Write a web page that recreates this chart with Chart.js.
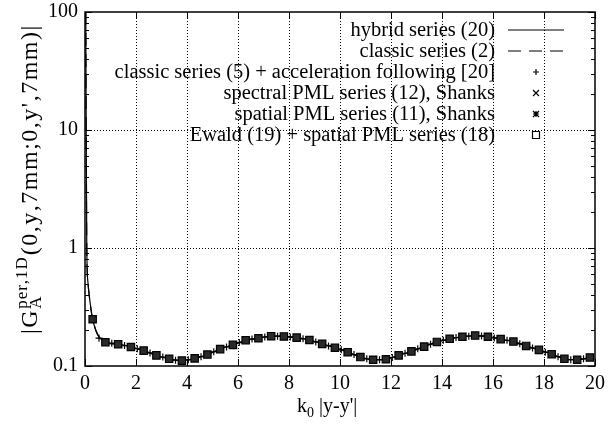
<!DOCTYPE html>
<html lang="en">
  <head>
    <meta charset="UTF-8" />
    <title>Periodic 1D Green's function</title>
    <script src="https://cdn.jsdelivr.net/npm/chart.js@4.4.1/dist/chart.umd.min.js"></script>
    <style>
      body { margin: 0; background: #fff; }
    </style>
  </head>
  <body>
    <div style="width: 609px; height: 427px">
      <canvas id="chart"></canvas>
    </div>

    <script>
      // sample points k0|y-y'| of the series (squares, x and *)
      const sampleX = [0.3, 0.8, 1.3, 1.8, 2.3, 2.8, 3.3, 3.8, 4.3, 4.8,
        5.3, 5.8, 6.3, 6.8, 7.3, 7.8, 8.3, 8.8, 9.3, 9.8,
        10.3, 10.8, 11.3, 11.8, 12.3, 12.8, 13.3, 13.8, 14.3, 14.8,
        15.3, 15.8, 16.3, 16.8, 17.3, 17.8, 18.3, 18.8, 19.3, 19.8]
      const sampleY = [0.249, 0.159, 0.153, 0.145, 0.135, 0.123, 0.115, 0.111, 0.116, 0.125,
        0.139, 0.151, 0.165, 0.172, 0.179, 0.178, 0.174, 0.166, 0.154, 0.143,
        0.131, 0.119, 0.113, 0.114, 0.123, 0.133, 0.146, 0.160, 0.170, 0.177,
        0.181, 0.177, 0.169, 0.161, 0.148, 0.137, 0.126, 0.115, 0.113, 0.118]

      // steep part of the curve next to the singularity
      const nearX = [0.03, 0.047, 0.07, 0.12, 0.17]
      const nearY = [100, 10, 1, 0.5, 0.39]

      // classic series + acceleration (the "+" marks)
      const plusX = [0.55, 1.05, 1.55, 2.05, 2.55, 3.05, 3.55, 4.05, 4.55, 5.05,
        5.55, 6.05, 6.55, 7.05, 7.55, 8.05, 8.55, 9.05, 9.55, 10.05,
        10.55, 11.05, 11.55, 12.05, 12.55, 13.05, 13.55, 14.05, 14.55, 15.05,
        15.55, 16.05, 16.55, 17.05, 17.55, 18.05, 18.55, 19.05, 19.55]
      const plusY = [0.172, 0.156, 0.149, 0.140, 0.129, 0.119, 0.112, 0.113, 0.120, 0.132,
        0.145, 0.158, 0.169, 0.176, 0.179, 0.176, 0.170, 0.160, 0.148, 0.137,
        0.125, 0.115, 0.113, 0.118, 0.128, 0.140, 0.153, 0.165, 0.174, 0.179,
        0.180, 0.173, 0.165, 0.154, 0.142, 0.131, 0.120, 0.113, 0.115]

      const labels = [
        'hybrid series (20)',
        'classic series (2)',
        'classic series (5) + acceleration following [20]',
        'spectral PML series (12), Shanks',
        'spatial PML series (11), Shanks',
        'Ewald (19) + spatial PML series (18)',
      ]

      const xTicks = [0, 2, 4, 6, 8, 10, 12, 14, 16, 18, 20]
      const yTicks = [0.1, 1, 10, 100]
      const yMinor = [0.2, 0.3, 0.4, 0.5, 0.6, 0.7, 0.8, 0.9,
        2, 3, 4, 5, 6, 7, 8, 9, 20, 30, 40, 50, 60, 70, 80, 90]

      const FONT = '"Liberation Serif", "DejaVu Serif", serif'

      const pts = (xs, ys) => xs.map((x, i) => ({ x: x, y: ys[i] }))
      const lineX = nearX.concat(sampleX)
      const lineY = nearY.concat(sampleY)

      // draw a string one glyph at a time with a little extra spacing
      const spaced = (ctx, text, x, y, sp) => {
        for (const ch of text) {
          ctx.fillText(ch, x, y)
          x += ctx.measureText(ch).width + sp
        }
        return x
      }

      // frame, dotted grid and inward ticks like gnuplot
      const framePlugin = {
        id: 'frame',
        beforeDatasetsDraw(chart) {
          const { ctx, chartArea: a, scales } = chart
          ctx.save()
          ctx.strokeStyle = '#000'
          ctx.lineWidth = 1
          ctx.setLineDash([1, 2])
          ctx.beginPath()
          xTicks.slice(1, -1).forEach((v) => {
            const px = Math.round(scales.x.getPixelForValue(v)) + 0.5
            ctx.moveTo(px, a.top)
            ctx.lineTo(px, a.bottom)
          })
          yTicks.slice(1, -1).forEach((v) => {
            const py = Math.round(scales.y.getPixelForValue(v)) + 0.5
            ctx.moveTo(a.left, py)
            ctx.lineTo(a.right, py)
          })
          ctx.stroke()
          ctx.restore()
        },
        afterDraw(chart) {
          const { ctx, chartArea: a, scales } = chart
          ctx.save()
          ctx.strokeStyle = '#000'
          ctx.lineWidth = 1
          ctx.beginPath()
          xTicks.forEach((v) => {
            const px = Math.round(scales.x.getPixelForValue(v)) + 0.5
            ctx.moveTo(px, a.bottom)
            ctx.lineTo(px, a.bottom - 7)
            ctx.moveTo(px, a.top)
            ctx.lineTo(px, a.top + 7)
          })
          yTicks.forEach((v) => {
            const py = Math.round(scales.y.getPixelForValue(v)) + 0.5
            ctx.moveTo(a.left, py)
            ctx.lineTo(a.left + 7, py)
            ctx.moveTo(a.right, py)
            ctx.lineTo(a.right - 7, py)
          })
          yMinor.forEach((v) => {
            const py = Math.round(scales.y.getPixelForValue(v)) + 0.5
            ctx.moveTo(a.left, py)
            ctx.lineTo(a.left + 4, py)
            ctx.moveTo(a.right, py)
            ctx.lineTo(a.right - 4, py)
          })
          ctx.stroke()
          ctx.lineWidth = 1.5
          ctx.strokeRect(a.left, a.top, a.right - a.left, a.bottom - a.top)

          // axis titles with sub/superscripts
          ctx.fillStyle = '#000'
          ctx.textBaseline = 'alphabetic'
          ctx.textAlign = 'left'
          ctx.font = '20px ' + FONT
          let x = 297
          ctx.fillText('k', x, 412)
          x += ctx.measureText('k').width
          ctx.font = '14px ' + FONT
          ctx.fillText('0', x, 417)
          x += ctx.measureText('0').width
          ctx.font = '20px ' + FONT
          ctx.fillText(' |y-y\'|', x, 412)

          ctx.translate(37, 334)
          ctx.rotate(-Math.PI / 2)
          ctx.font = '24px ' + FONT
          x = spaced(ctx, '|G', 0, 0, 1.5)
          ctx.font = '17px ' + FONT
          ctx.fillText('A', x, 4)
          x = spaced(ctx, 'per,1D', x, -10, 1)
          ctx.font = '24px ' + FONT
          spaced(ctx, '(0,y,7mm;0,y\',7mm)|', x + 1, 0, 1.5)
          ctx.restore()

          // legend: right aligned text, sample on the right
          ctx.save()
          ctx.font = '20.5px ' + FONT
          ctx.textAlign = 'right'
          ctx.textBaseline = 'middle'
          ctx.fillStyle = '#000'
          ctx.strokeStyle = '#000'
          chart.data.datasets.forEach((ds, i) => {
            const y = 30 + 21 * i
            ctx.fillText(ds.label, 495, y + 1)
            const cx = 536
            ctx.lineWidth = 1.2
            ctx.setLineDash([])
            ctx.beginPath()
            if (i === 0) {
              ctx.moveTo(508, y)
              ctx.lineTo(564, y)
            } else if (i === 1) {
              ctx.setLineDash([13, 8])
              ctx.moveTo(508, y)
              ctx.lineTo(564, y)
            } else if (i === 2) {
              ctx.moveTo(cx - 3, y)
              ctx.lineTo(cx + 3, y)
              ctx.moveTo(cx, y - 3)
              ctx.lineTo(cx, y + 3)
            } else if (i === 3) {
              ctx.moveTo(cx - 3, y - 3)
              ctx.lineTo(cx + 3, y + 3)
              ctx.moveTo(cx - 3, y + 3)
              ctx.lineTo(cx + 3, y - 3)
            } else if (i === 4) {
              ctx.moveTo(cx - 3, y - 3)
              ctx.lineTo(cx + 3, y + 3)
              ctx.moveTo(cx - 3, y + 3)
              ctx.lineTo(cx + 3, y - 3)
              ctx.moveTo(cx - 3, y)
              ctx.lineTo(cx + 3, y)
              ctx.moveTo(cx, y - 3)
              ctx.lineTo(cx, y + 3)
            } else {
              ctx.rect(cx - 3.5, y - 3.5, 7, 7)
            }
            ctx.stroke()
          })
          ctx.restore()
        },
      }

      new Chart(document.getElementById('chart'), {
        type: 'scatter',
        data: {
          datasets: [
            {
              label: labels[0],
              data: pts(lineX, lineY),
              showLine: true,
              borderColor: '#000',
              borderWidth: 1.2,
              pointRadius: 0,
              cubicInterpolationMode: 'monotone',
              order: 5,
            },
            {
              label: labels[1],
              data: pts(lineX, lineY),
              showLine: true,
              borderColor: '#000',
              borderWidth: 1.2,
              borderDash: [13, 8],
              pointRadius: 0,
              cubicInterpolationMode: 'monotone',
              order: 4,
            },
            {
              label: labels[2],
              data: pts(plusX, plusY),
              pointStyle: 'cross',
              pointRadius: 3.5,
              borderColor: '#000',
              borderWidth: 1.2,
              order: 3,
            },
            {
              label: labels[3],
              data: pts(sampleX, sampleY),
              pointStyle: 'crossRot',
              pointRadius: 3.5,
              borderColor: '#000',
              borderWidth: 1.2,
              order: 2,
            },
            {
              label: labels[4],
              data: pts(sampleX, sampleY),
              pointStyle: 'star',
              pointRadius: 3.5,
              borderColor: '#000',
              borderWidth: 1.2,
              order: 1,
            },
            {
              label: labels[5],
              data: pts(sampleX, sampleY),
              pointStyle: 'rect',
              pointRadius: 5.2,
              backgroundColor: '#2a2a2a',
              borderColor: '#000',
              borderWidth: 1.2,
              order: 0,
            },
          ],
        },
        options: {
          responsive: true,
          maintainAspectRatio: false,
          animation: false,
          events: [],
          layout: {
            padding: { left: 0, right: 14, top: 12, bottom: 0 },
          },
          scales: {
            x: {
              type: 'linear',
              min: 0,
              max: 20,
              afterBuildTicks: (scale) => {
                scale.ticks = xTicks.map((v) => ({ value: v }))
              },
              afterFit: (scale) => {
                scale.height = 61
                scale.paddingLeft = 0
                scale.paddingRight = 0
              },
              grid: { display: false, drawTicks: false },
              border: { display: false },
              ticks: {
                color: '#000',
                padding: 6,
                maxRotation: 0,
                font: { family: FONT, size: 20 },
              },
            },
            y: {
              type: 'logarithmic',
              min: 0.1,
              max: 100,
              afterBuildTicks: (scale) => {
                scale.ticks = yTicks.map((v) => ({ value: v }))
              },
              afterFit: (scale) => {
                scale.width = 85
                scale.paddingTop = 0
                scale.paddingBottom = 0
              },
              grid: { display: false, drawTicks: false },
              border: { display: false },
              ticks: {
                color: '#000',
                padding: 7,
                font: { family: FONT, size: 20 },
                callback: (v) => String(v),
              },
            },
          },
          plugins: {
            legend: { display: false },
            tooltip: { enabled: false },
          },
        },
        plugins: [framePlugin],
      })
    </script>
  </body>
</html>
